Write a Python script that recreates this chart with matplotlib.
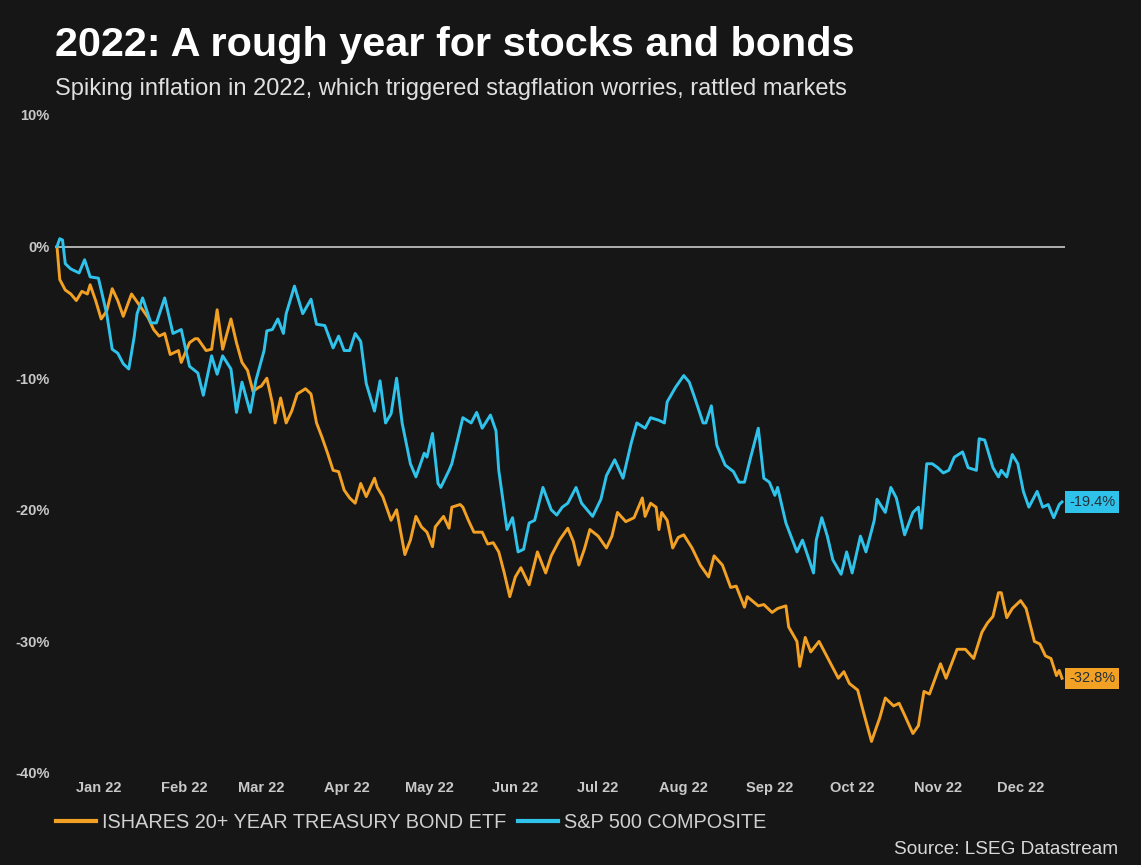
import matplotlib
matplotlib.use("Agg")
import matplotlib.pyplot as plt
import numpy as np
import pandas as pd

# ---- data: cumulative % change since 31 Dec 2021 (day offsets from that date) ----
start_date = pd.Timestamp("2021-12-31")

spx_days = [0, 1, 2, 3, 5, 8, 10, 12, 15, 18, 20, 22, 24, 26, 28, 29, 31, 34, 36, 39,
            42, 45, 48, 51, 53, 56, 58, 60, 63, 65, 67, 70, 72, 75, 76, 78, 80, 82, 83, 86,
            89, 92, 94, 97, 100, 102, 104, 106, 108, 110, 112, 115, 117, 119, 121, 123, 125, 128, 130, 133,
            134, 136, 138, 139, 142, 143, 147, 150, 152, 154, 157, 159, 160, 163, 165, 167, 169, 171, 173, 176,
            179, 181, 183, 185, 188, 190, 194, 197, 199, 202, 205, 208, 210, 213, 215, 218, 220, 221, 224, 227,
            229, 231, 234, 235, 237, 239, 242, 245, 247, 249, 251, 254, 256, 258, 260, 261, 264, 268, 270, 274,
            275, 277, 279, 281, 284, 286, 288, 291, 293, 296, 297, 300, 302, 304, 307, 310, 312, 313, 315, 317,
            319, 321, 323, 325, 328, 330, 333, 334, 336, 339, 341, 342, 344, 346, 348, 350, 352, 355, 357, 359,
            361, 363, 364]
spx_pct = [0.0, 0.6, 0.5, -1.3, -1.7, -2.0, -1.0, -2.3, -2.4, -5.1, -7.8, -8.1, -8.9, -9.3, -6.8, -5.1, -3.9, -5.8, -5.8, -3.9,
           -6.6, -6.3, -9.1, -9.6, -11.3, -8.3, -9.7, -8.3, -9.3, -12.6, -10.3, -12.6, -10.2, -7.9, -6.4, -6.3, -5.5, -6.6, -5.1, -3.0,
           -5.1, -4.0, -5.9, -6.0, -7.7, -6.8, -7.9, -7.9, -6.6, -7.2, -10.4, -12.5, -10.2, -13.4, -12.7, -10.0, -13.4, -16.5, -17.5, -15.7,
           -16.0, -14.2, -18.0, -18.3, -17.0, -16.5, -13.0, -13.4, -12.6, -13.8, -12.8, -14.0, -17.0, -21.5, -20.6, -23.2, -23.0, -21.0, -20.8, -18.3,
           -20.0, -20.4, -19.8, -19.5, -18.3, -19.5, -20.5, -19.2, -17.4, -16.2, -17.6, -14.9, -13.4, -13.8, -13.0, -13.2, -13.4, -11.8, -10.7, -9.8,
           -10.3, -11.5, -13.4, -13.4, -12.1, -15.1, -16.6, -17.1, -17.9, -17.9, -16.2, -13.8, -17.6, -17.9, -18.9, -18.3, -21.0, -23.2, -22.3, -24.8,
           -22.3, -20.6, -22.0, -23.8, -24.9, -23.2, -24.8, -22.0, -23.2, -20.8, -19.2, -20.2, -18.3, -19.1, -21.9, -20.2, -19.8, -21.4, -16.5, -16.5,
           -16.8, -17.2, -17.0, -16.0, -15.6, -16.8, -17.0, -14.6, -14.7, -16.8, -17.5, -17.0, -17.5, -15.8, -16.5, -18.6, -19.8, -18.6, -19.8, -19.6,
           -20.6, -19.6, -19.4]

tlt_days = [0, 1, 3, 5, 7, 9, 11, 12, 14, 16, 18, 20, 22, 24, 27, 28, 30, 33, 35, 37,
            39, 41, 44, 45, 48, 50, 51, 54, 56, 58, 60, 63, 65, 67, 69, 71, 73, 74, 76, 78,
            79, 81, 83, 85, 87, 90, 92, 94, 96, 98, 100, 102, 104, 106, 108, 110, 112, 115, 116, 118,
            121, 123, 126, 128, 130, 132, 134, 136, 137, 140, 142, 143, 146, 147, 149, 151, 154, 156, 158, 160,
            162, 164, 166, 168, 171, 174, 177, 179, 182, 185, 187, 189, 191, 193, 196, 199, 201, 203, 206, 209,
            212, 213, 215, 217, 218, 219, 221, 223, 225, 227, 230, 233, 236, 238, 241, 244, 246, 249, 250, 254,
            256, 259, 261, 264, 265, 268, 269, 271, 273, 276, 279, 283, 285, 287, 290, 292, 295, 298, 300, 303,
            305, 307, 310, 312, 314, 316, 320, 322, 326, 329, 332, 335, 337, 339, 341, 342, 344, 346, 349, 351,
            354, 356, 358, 360, 362, 363, 364]
tlt_pct = [0.0, -2.5, -3.3, -3.6, -4.1, -3.4, -3.6, -2.9, -4.1, -5.5, -4.9, -3.2, -4.1, -5.3, -3.6, -3.9, -4.5, -5.4, -6.3, -6.8,
           -6.6, -8.2, -7.9, -8.8, -7.3, -7.0, -7.0, -7.9, -7.8, -4.8, -7.8, -5.5, -7.3, -8.8, -9.4, -11.0, -10.7, -10.6, -10.0, -11.9,
           -13.4, -11.5, -13.4, -12.5, -11.2, -10.8, -11.2, -13.4, -14.5, -15.7, -17.0, -17.1, -18.5, -19.1, -19.5, -18.0, -19.0, -17.6, -18.3, -19.0,
           -20.8, -20.0, -23.4, -22.3, -20.5, -21.3, -21.7, -22.8, -21.3, -20.5, -21.4, -19.8, -19.6, -19.8, -20.8, -21.7, -21.7, -22.6, -22.5, -23.2,
           -24.8, -26.6, -25.1, -24.4, -25.7, -23.2, -24.8, -23.5, -22.3, -21.4, -22.4, -24.2, -23.0, -21.5, -22.0, -22.9, -22.0, -20.2, -20.9, -20.6,
           -19.1, -20.5, -19.5, -19.8, -21.5, -20.2, -20.8, -22.9, -22.1, -21.9, -22.9, -24.2, -25.1, -23.5, -24.2, -25.9, -25.8, -27.4, -26.6, -27.3,
           -27.2, -27.8, -27.5, -27.3, -28.9, -30.0, -31.9, -29.7, -30.8, -30.0, -31.2, -32.8, -32.3, -33.2, -33.7, -35.3, -37.6, -35.8, -34.3, -34.9,
           -34.7, -35.6, -37.0, -36.4, -33.8, -34.0, -31.7, -32.8, -30.6, -30.6, -31.3, -29.3, -28.6, -28.1, -26.3, -26.3, -28.2, -27.5, -26.9, -27.5,
           -30.0, -30.2, -31.1, -31.3, -32.6, -32.2, -32.8]

series_names = ["ISHARES 20+ YEAR TREASURY BOND ETF", "S&P 500 COMPOSITE"]
month_labels = ["Jan 22", "Feb 22", "Mar 22", "Apr 22", "May 22", "Jun 22",
                "Jul 22", "Aug 22", "Sep 22", "Oct 22", "Nov 22", "Dec 22"]
y_ticks = [10, 0, -10, -20, -30, -40]

# ---- style ----
BG = "#161616"
ORANGE = "#f2a124"
BLUE = "#2fc3ec"
FONT = ["Liberation Sans", "DejaVu Sans"]
plt.rcParams["font.family"] = FONT

W, H = 1141, 865
fig = plt.figure(figsize=(W / 100, H / 100), dpi=100, facecolor=BG)

px_per_day = (1062 - 57) / 364
ax_left, ax_right = 55, 1065
ax_top, ax_bottom = 115, 773
ax = fig.add_axes([ax_left / W, 1 - ax_bottom / H, (ax_right - ax_left) / W, (ax_bottom - ax_top) / H])
ax.set_facecolor(BG)
ax.set_xlim(-2 / px_per_day, 364 + 3 / px_per_day)
ax.set_ylim(-40, 10)
for s in ax.spines.values():
    s.set_visible(False)

ax.axhline(0, color="#bdbdbd", lw=1.3, zorder=1)

ax.plot(tlt_days, tlt_pct, color=ORANGE, lw=2.1, solid_joinstyle="round", zorder=3, label=series_names[0])
ax.plot(spx_days, spx_pct, color=BLUE, lw=2.1, solid_joinstyle="round", zorder=4, label=series_names[1])

# month labels centred mid-month
mid_month = pd.date_range("2022-01-01", periods=12, freq="MS") + pd.Timedelta(days=14)
ax.set_xticks([(d - start_date).days for d in mid_month])
ax.set_xticklabels(month_labels)
ax.set_yticks(y_ticks)
ax.set_yticklabels([f"{v}%" for v in y_ticks])
ax.tick_params(axis="both", length=0)
ax.tick_params(axis="x", pad=6)
ax.tick_params(axis="y", pad=4)
for lab in ax.get_xticklabels() + ax.get_yticklabels():
    lab.set_fontsize(10.5)
    lab.set_fontweight("bold")
    lab.set_color("#c8c8c8")

# end-of-year value tags
for days, vals, col in [(spx_days, spx_pct, BLUE), (tlt_days, tlt_pct, ORANGE)]:
    ax.annotate(f"{vals[-1]:.1f}%", xy=(days[-1], vals[-1]), xytext=(5, 0),
                textcoords="offset points", ha="left", va="center", fontsize=10.5,
                color="#243038", annotation_clip=False,
                bbox=dict(boxstyle="square,pad=0.25", fc=col, ec="none"))

# titles
fig.text(55 / W, 1 - 56 / H, "2022: A rough year for stocks and bonds", color="white",
         fontsize=29.8, fontweight="bold", ha="left", va="baseline")
fig.text(55 / W, 1 - 95 / H, "Spiking inflation in 2022, which triggered stagflation worries, rattled markets",
         color="#e0e0e0", fontsize=17, ha="left", va="baseline")

# legend
leg = fig.legend(loc="center left", bbox_to_anchor=(56 / W, 1 - 822 / H), ncol=2, frameon=False,
                 fontsize=14.3, handlelength=2.0, handletextpad=0.3, columnspacing=0.6,
                 borderpad=0, borderaxespad=0)
for line in leg.get_lines():
    line.set_linewidth(3.0)
for t in leg.get_texts():
    t.set_color("#d0d0d0")

fig.text(1118 / W, 1 - 850 / H, "Source: LSEG Datastream", color="#d8d8d8", fontsize=13.7,
         ha="right", va="center")

fig.savefig("out.png", dpi=100, facecolor=BG)
